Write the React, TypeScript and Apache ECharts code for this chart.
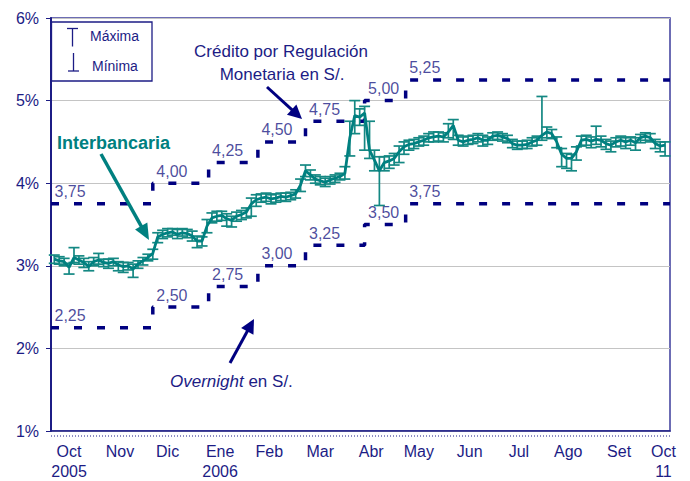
import React, { useEffect, useRef } from 'react';
import * as echarts from 'echarts';

// ---------- data ----------
// Interbank rate: one observation every 3 calendar days starting 3-Oct-2005
const interbankStartDay = 2; // days after 1-Oct-2005
const interbankStepDays = 3;
const interbankMid = [
  3.08, 3.06, 3.05, 2.98, 3.10, 3.07, 3.04, 2.99, 3.05, 3.07,
  3.04, 3.03, 3.05, 3.01, 2.99, 3.00, 2.96, 3.02, 3.06, 3.10,
  3.15, 3.35, 3.38, 3.40, 3.41, 3.38, 3.40, 3.39, 3.36, 3.30,
  3.30, 3.48, 3.58, 3.60, 3.61, 3.57, 3.55, 3.60, 3.62, 3.65,
  3.75, 3.80, 3.82, 3.83, 3.81, 3.82, 3.84, 3.83, 3.85, 3.87,
  3.98, 4.15, 4.10, 4.05, 4.03, 4.01, 4.04, 4.06, 4.08, 4.12,
  4.55, 4.82, 4.80, 4.85, 4.40, 4.28, 4.15, 4.25, 4.27, 4.30,
  4.38, 4.44, 4.47, 4.48, 4.50, 4.52, 4.55, 4.56, 4.57, 4.56,
  4.62, 4.70, 4.52, 4.50, 4.52, 4.53, 4.55, 4.52, 4.52, 4.57,
  4.58, 4.56, 4.54, 4.48, 4.46, 4.46, 4.47, 4.50, 4.52, 4.58,
  4.62, 4.60, 4.50, 4.35, 4.30, 4.30, 4.38, 4.52, 4.53, 4.51,
  4.53, 4.52, 4.48, 4.46, 4.50, 4.52, 4.50, 4.52, 4.49, 4.55,
  4.57, 4.55, 4.48, 4.45, 4.46,
];
const interbankMax = [
  3.13, 3.11, 3.09, 3.03, 3.22, 3.12, 3.09, 3.05, 3.10, 3.15,
  3.08, 3.08, 3.09, 3.05, 3.04, 3.04, 3.02, 3.06, 3.10, 3.14,
  3.20, 3.40, 3.43, 3.45, 3.45, 3.44, 3.45, 3.44, 3.42, 3.36,
  3.35, 3.56, 3.64, 3.66, 3.66, 3.63, 3.60, 3.65, 3.67, 3.70,
  3.82, 3.86, 3.87, 3.88, 3.86, 3.87, 3.88, 3.88, 3.89, 3.92,
  4.05, 4.22, 4.16, 4.10, 4.08, 4.06, 4.08, 4.10, 4.12, 4.20,
  4.75, 5.00, 4.90, 4.93, 4.75, 4.40, 4.32, 4.32, 4.33, 4.36,
  4.45, 4.50, 4.52, 4.53, 4.55, 4.57, 4.60, 4.62, 4.62, 4.61,
  4.72, 4.77, 4.58, 4.56, 4.57, 4.58, 4.60, 4.58, 4.56, 4.61,
  4.62, 4.60, 4.58, 4.53, 4.51, 4.51, 4.52, 4.55, 4.57, 5.05,
  4.68, 4.65, 4.56, 4.42, 4.36, 4.35, 4.44, 4.57, 4.58, 4.56,
  4.69, 4.57, 4.53, 4.51, 4.55, 4.57, 4.55, 4.56, 4.55, 4.59,
  4.61, 4.60, 4.53, 4.50, 4.50,
];
const interbankMin = [
  3.03, 3.02, 3.00, 2.90, 3.04, 3.02, 2.98, 2.94, 3.00, 3.02,
  2.99, 2.97, 3.00, 2.94, 2.92, 2.95, 2.86, 2.97, 3.01, 3.06,
  3.08, 3.28, 3.33, 3.35, 3.37, 3.33, 3.36, 3.34, 3.30, 3.22,
  3.24, 3.40, 3.52, 3.54, 3.55, 3.48, 3.47, 3.54, 3.56, 3.58,
  3.60, 3.72, 3.77, 3.78, 3.75, 3.77, 3.79, 3.78, 3.80, 3.82,
  3.90, 4.08, 4.04, 4.00, 3.98, 3.96, 3.99, 4.01, 4.04, 4.05,
  4.33, 4.60, 4.70, 4.40, 4.30, 4.15, 3.73, 4.15, 4.18, 4.22,
  4.25, 4.35, 4.40, 4.42, 4.45, 4.46, 4.50, 4.50, 4.51, 4.50,
  4.55, 4.53, 4.46, 4.45, 4.47, 4.48, 4.50, 4.45, 4.47, 4.52,
  4.53, 4.51, 4.49, 4.43, 4.41, 4.42, 4.42, 4.45, 4.46, 4.52,
  4.55, 4.54, 4.43, 4.20, 4.18, 4.15, 4.28, 4.45, 4.46, 4.43,
  4.47, 4.44, 4.41, 4.38, 4.44, 4.45, 4.42, 4.46, 4.40, 4.49,
  4.52, 4.50, 4.42, 4.38, 4.33,
];

// Policy corridor (step changes)
const policyDates = ['2005-10-01', '2005-12-02', '2006-01-05', '2006-02-04', '2006-03-05', '2006-04-10', '2006-05-05', '2006-10-13'];
const creditoRates = [3.75, 4.0, 4.25, 4.5, 4.75, 5.0, 5.25, 5.25];
const overnightRates = [2.25, 2.5, 2.75, 3.0, 3.25, 3.5, 3.75, 3.75];

// x-axis tick labels
const monthTickDates = ['2005-10-12', '2005-11-12', '2005-12-11', '2006-01-12', '2006-02-11', '2006-03-14', '2006-04-14', '2006-05-13', '2006-06-13', '2006-07-13', '2006-08-12', '2006-09-12', '2006-10-09'];
const monthTickLabels = ['Oct\n2005', 'Nov', 'Dic', 'Ene\n2006', 'Feb', 'Mar', 'Abr', 'May', 'Jun', 'Jul', 'Ago', 'Set', 'Oct\n11'];

const axisStart = '2005-10-01';
const axisEnd = '2006-10-13';

// ---------- helpers ----------
const parse = (s: string) => {
  const [y, m, d] = s.split('-').map(Number);
  return Date.UTC(y, m - 1, d);
};
// day index relative to axis start (x axis is in days)
const dayOf = (s: string) => Math.round((parse(s) - parse(axisStart)) / 86400000);
const fmtRate = (v: number) => v.toFixed(2).replace('.', ',');

const FONT = "'Liberation Sans', Arial, sans-serif";
const NAVY = '#1c1c85';
const DASH = '#000080';
const TEAL = '#008080';
const BAR = '#148883';

function arrow(x0: number, y0: number, x1: number, y1: number, color: string, w: number, headLen: number, headHalf: number) {
  const dx = x1 - x0;
  const dy = y1 - y0;
  const len = Math.sqrt(dx * dx + dy * dy);
  const ux = dx / len;
  const uy = dy / len;
  const bx = x1 - ux * headLen;
  const by = y1 - uy * headLen;
  const px = -uy;
  const py = ux;
  return [
    { type: 'line', shape: { x1: x0, y1: y0, x2: bx + ux * 2, y2: by + uy * 2 }, style: { stroke: color, lineWidth: w }, z: 11 },
    {
      type: 'polygon',
      shape: { points: [[x1, y1], [bx + px * headHalf, by + py * headHalf], [bx - px * headHalf, by - py * headHalf]] },
      style: { fill: color },
      z: 11,
    },
  ];
}

export default function App() {
  const ref = useRef<HTMLDivElement>(null);
  useEffect(() => {
    const chart = echarts.init(ref.current!, null, { renderer: 'svg' });
    const xs = interbankMid.map((_, i) => interbankStartDay + i * interbankStepDays);
    const lineData = interbankMid.map((v, i) => [xs[i], v]);
    const errData = interbankMid.map((_, i) => [xs[i], interbankMax[i], interbankMin[i]]);
    const tickDays = monthTickDates.map(dayOf);

    const option: any = {
      animation: false,
      backgroundColor: '#ffffff',
      grid: { left: 51, right: 20, top: 18, bottom: 47, show: true, borderColor: '#3d3d9c', borderWidth: 1.5, backgroundColor: 'transparent' },
      xAxis: {
        type: 'value',
        min: 0,
        max: dayOf(axisEnd),
        splitLine: { show: false },
        axisLine: { show: true, lineStyle: { color: NAVY, width: 1.5 } },
        axisTick: { show: false },
        axisLabel: {
          customValues: tickDays,
          formatter: (v: number) => {
            const idx = tickDays.indexOf(Math.round(v));
            return idx >= 0 ? monthTickLabels[idx] : '';
          },
          color: NAVY,
          fontSize: 16,
          fontFamily: FONT,
          lineHeight: 20,
          margin: 10,
          showMinLabel: true,
          showMaxLabel: true,
          hideOverlap: false,
        },
      },
      yAxis: {
        type: 'value',
        min: 1,
        max: 6,
        interval: 1,
        axisLabel: { formatter: '{value}%', color: NAVY, fontSize: 16, fontFamily: FONT, margin: 12 },
        axisLine: { show: true, lineStyle: { color: NAVY, width: 2 } },
        axisTick: { show: true, length: 5, lineStyle: { color: NAVY, width: 1 } },
        splitLine: { show: true, lineStyle: { color: '#c4c4c4', width: 1 } },
      },
      series: [
        {
          name: 'Crédito por Regulación Monetaria',
          type: 'line',
          step: 'end',
          data: policyDates.map((d, i) => [dayOf(d), creditoRates[i]]),
          symbol: 'none',
          lineStyle: { color: DASH, width: 3.5, type: [8, 15] },
          silent: true,
          z: 1,
        },
        {
          name: 'Overnight',
          type: 'line',
          step: 'end',
          data: policyDates.map((d, i) => [dayOf(d), overnightRates[i]]),
          symbol: 'none',
          lineStyle: { color: DASH, width: 3.5, type: [8, 15] },
          silent: true,
          z: 1,
        },
        {
          name: 'labels-credito',
          type: 'scatter',
          data: policyDates.slice(0, -1).map((d, i) => [dayOf(d), creditoRates[i]]),
          symbolSize: 1,
          itemStyle: { color: 'rgba(0,0,0,0)' },
          label: { show: true, position: 'right', distance: 3, offset: [0, -12], formatter: (p: any) => fmtRate(p.value[1]), color: NAVY, fontSize: 16, fontFamily: FONT },
          silent: true,
          z: 3,
        },
        {
          name: 'labels-overnight',
          type: 'scatter',
          data: policyDates.slice(0, -1).map((d, i) => [dayOf(d), overnightRates[i]]),
          symbolSize: 1,
          itemStyle: { color: 'rgba(0,0,0,0)' },
          label: { show: true, position: 'right', distance: 3, offset: [0, -12], formatter: (p: any) => fmtRate(p.value[1]), color: NAVY, fontSize: 16, fontFamily: FONT },
          silent: true,
          z: 3,
        },
        {
          name: 'Máx/Mín',
          type: 'custom',
          data: errData,
          encode: { x: 0, y: [1, 2] },
          renderItem: (params: any, api: any) => {
            const x = api.value(0);
            const top = api.coord([x, api.value(1)]);
            const bot = api.coord([x, api.value(2)]);
            const hw = 5.5;
            const st = { stroke: BAR, lineWidth: 1.7 };
            return {
              type: 'group',
              children: [
                { type: 'line', shape: { x1: top[0], y1: top[1], x2: bot[0], y2: bot[1] }, style: st },
                { type: 'line', shape: { x1: top[0] - hw, y1: top[1], x2: top[0] + hw, y2: top[1] }, style: st },
                { type: 'line', shape: { x1: bot[0] - hw, y1: bot[1], x2: bot[0] + hw, y2: bot[1] }, style: st },
              ],
            };
          },
          silent: true,
          z: 4,
        },
        {
          name: 'Interbancaria',
          type: 'line',
          data: lineData,
          symbol: 'none',
          lineStyle: { color: TEAL, width: 2.8 },
          silent: true,
          z: 5,
        },
      ],
      graphic: [
        // legend box
        { type: 'rect', shape: { x: 51.5, y: 22, width: 100.5, height: 59 }, style: { fill: '#fff', stroke: NAVY, lineWidth: 1.3 }, z: 10 },
        { type: 'line', shape: { x1: 72.5, y1: 28.5, x2: 72.5, y2: 46.5 }, style: { stroke: NAVY, lineWidth: 1.3 }, z: 11 },
        { type: 'line', shape: { x1: 67, y1: 28.5, x2: 78, y2: 28.5 }, style: { stroke: NAVY, lineWidth: 1.3 }, z: 11 },
        { type: 'line', shape: { x1: 73.5, y1: 53, x2: 73.5, y2: 71 }, style: { stroke: NAVY, lineWidth: 1.3 }, z: 11 },
        { type: 'line', shape: { x1: 68, y1: 71, x2: 79, y2: 71 }, style: { stroke: NAVY, lineWidth: 1.3 }, z: 11 },
        { type: 'text', x: 90, y: 36, style: { text: 'Máxima', fill: NAVY, font: `14px ${FONT}`, textVerticalAlign: 'middle' }, z: 11 },
        { type: 'text', x: 92, y: 65.5, style: { text: 'Mínima', fill: NAVY, font: `14px ${FONT}`, textVerticalAlign: 'middle' }, z: 11 },
        // annotations
        { type: 'text', x: 281, y: 51, style: { text: 'Crédito por Regulación', fill: NAVY, font: `17px ${FONT}`, textAlign: 'center', textVerticalAlign: 'middle' }, z: 11 },
        { type: 'text', x: 282, y: 74, style: { text: 'Monetaria en S/.', fill: NAVY, font: `17px ${FONT}`, textAlign: 'center', textVerticalAlign: 'middle' }, z: 11 },
        { type: 'text', x: 57, y: 143, style: { text: 'Interbancaria', fill: TEAL, font: `bold 18px ${FONT}`, textVerticalAlign: 'middle' }, z: 11 },
        {
          type: 'text',
          x: 170,
          y: 381,
          style: {
            text: '{i|Overnight} en S/.',
            fill: NAVY,
            font: `17px ${FONT}`,
            textVerticalAlign: 'middle',
            rich: { i: { fontStyle: 'italic', fontSize: 17, fontFamily: FONT, fill: NAVY } },
          },
          z: 11,
        },
        ...arrow(267, 87, 302, 119, DASH, 3, 14, 7),
        ...arrow(101, 154, 149, 240, TEAL, 3.5, 16, 7),
        ...arrow(230, 363, 254, 319, DASH, 3, 14, 7),
        // dotted bottom
        { type: 'line', shape: { x1: 51, y1: 436, x2: 670, y2: 436 }, style: { stroke: NAVY, lineWidth: 1, lineDash: [1, 2] }, z: 11 },
      ],
    };
    chart.setOption(option);
    return () => chart.dispose();
  }, []);
  return <div ref={ref} style={{ position: 'fixed', left: 0, top: 0, width: 690, height: 481, background: '#fff' }} />;
}
